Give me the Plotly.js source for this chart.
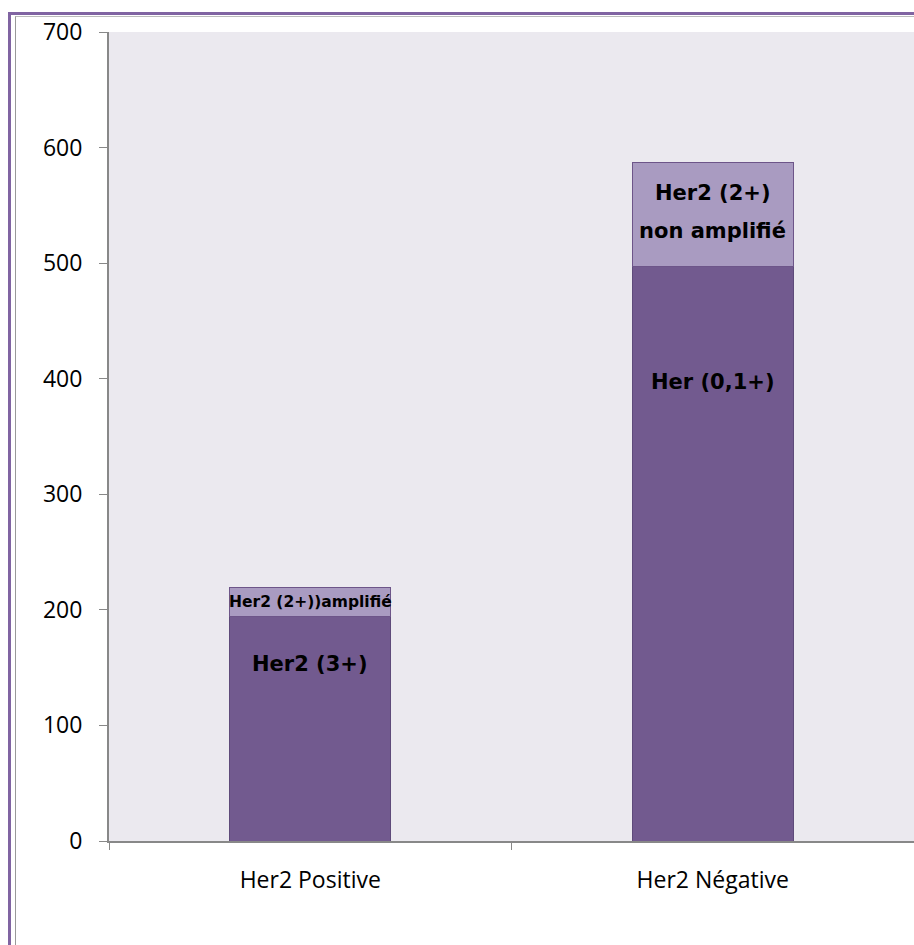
<!DOCTYPE html>
<html><head><meta charset="utf-8">
<script src="https://cdn.plot.ly/plotly-3.0.1.min.js"></script>
<style>
html,body{margin:0;padding:0;background:#fff;overflow:hidden;}
#chart{position:absolute;left:0;top:0;width:914px;height:945px;}
#b1{position:absolute;left:8px;top:12px;width:2000px;height:2000px;border-left:3px solid #8064a2;border-top:3px solid #8064a2;pointer-events:none;}
#b2{position:absolute;left:15px;top:16px;width:2000px;height:2000px;border-left:1px solid #999;border-top:1px solid #bbb;pointer-events:none;}
</style></head>
<body>
<div id="chart"></div>
<div id="b1"></div><div id="b2"></div>
<script>
const categories = ["Her2 Positive", "Her2 Négative"];
const baseValues = [194, 497];
const topValues = [25, 90];
const yTicks = [0, 100, 200, 300, 400, 500, 600, 700];

const traces = [
  {type:"bar", x:categories, y:baseValues, marker:{color:"#725a8f", line:{color:"#5e4a7a", width:1}}, hoverinfo:"none"},
  {type:"bar", x:categories, y:topValues, marker:{color:"#a99bc1", line:{color:"#6d5589", width:1}}, hoverinfo:"none"}
];

const annFont = {family:"DejaVu Sans", size:21, color:"#000"};
const annotations = [
  {x:categories[0], y:153, text:"<b>Her2 (3+)</b>", showarrow:false, font:annFont},
  {x:categories[0], y:baseValues[0]+topValues[0]/2, text:"<b>Her2 (2+))amplifié</b>", showarrow:false, font:{family:"DejaVu Sans", size:15.5, color:"#000"}},
  {x:categories[1], y:397, text:"<b>Her (0,1+)</b>", showarrow:false, font:annFont},
  {x:categories[1], y:561, text:"<b>Her2 (2+)</b>", showarrow:false, font:annFont},
  {x:categories[1], y:528, text:"<b>non amplifié</b>", showarrow:false, font:annFont}
];

const layout = {
  width:914, height:945,
  margin:{l:109, r:0, t:32, b:104},
  paper_bgcolor:"rgba(0,0,0,0)", plot_bgcolor:"#ebe9ef",
  barmode:"stack", bargap:0.6, showlegend:false,
  font:{family:"Open Sans", size:18, color:"#000"},
  xaxis:{type:"category", showline:true, linecolor:"#888", linewidth:2, ticks:"outside", tickson:"boundaries", ticklen:7, tickcolor:"#888", tickfont:{family:"Open Sans", size:23}, ticklabelstandoff:17, showgrid:false, fixedrange:true},
  yaxis:{range:[0,700], tickvals:yTicks, ticktext:yTicks.map(String), showline:true, linecolor:"#888", linewidth:2, ticks:"outside", ticklen:8, tickcolor:"#888", tickfont:{family:"Open Sans", size:23}, showgrid:false, zeroline:false, ticklabelstandoff:12, fixedrange:true},
  annotations:annotations
};
Plotly.newPlot("chart", traces, layout, {displayModeBar:false, staticPlot:true});
</script>
</body></html>
